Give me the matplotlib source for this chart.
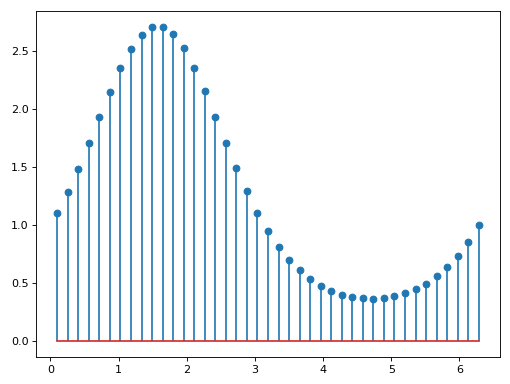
import matplotlib
matplotlib.use("Agg")
import matplotlib.pyplot as plt

# sample positions and heights
x = [0.100, 0.255, 0.409, 0.564, 0.718, 0.873, 1.027, 1.182, 1.337, 1.491,
     1.646, 1.800, 1.955, 2.110, 2.264, 2.419, 2.573, 2.728, 2.882, 3.037,
     3.192, 3.346, 3.501, 3.655, 3.810, 3.965, 4.119, 4.274, 4.428, 4.583,
     4.737, 4.892, 5.047, 5.201, 5.356, 5.510, 5.665, 5.819, 5.974, 6.129,
     6.283]
y = [1.105, 1.286, 1.489, 1.706, 1.931, 2.152, 2.353, 2.522, 2.645, 2.709,
     2.711, 2.648, 2.528, 2.360, 2.159, 1.938, 1.714, 1.495, 1.293, 1.110,
     0.951, 0.816, 0.704, 0.612, 0.538, 0.480, 0.437, 0.404, 0.383, 0.371,
     0.368, 0.374, 0.389, 0.414, 0.450, 0.497, 0.560, 0.640, 0.738, 0.857,
     1.000]

fig, ax = plt.subplots(figsize=(6.375, 4.8), dpi=80)
ax.stem(x, y)
fig.subplots_adjust(left=0.071, right=0.980, top=0.971, bottom=0.070)

fig.savefig("out.png", dpi=80)
